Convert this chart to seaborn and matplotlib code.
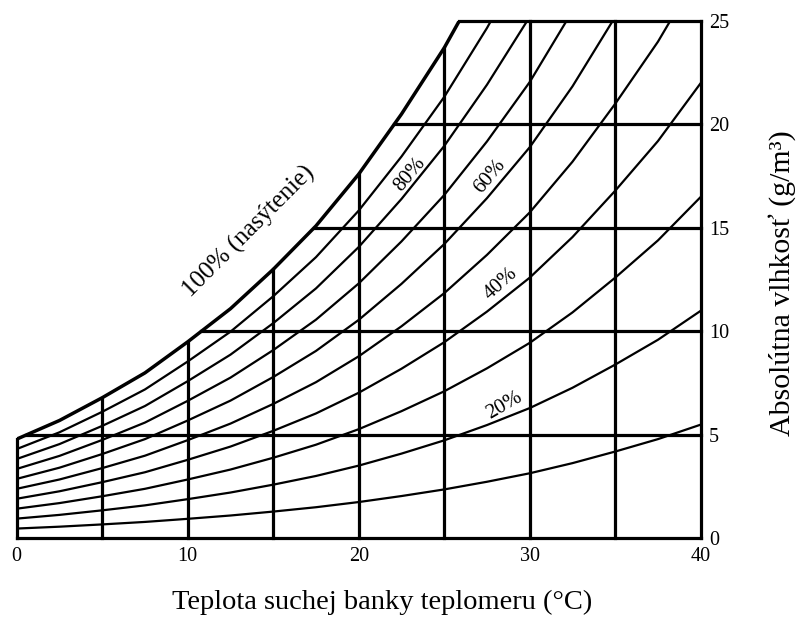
import numpy as np
import pandas as pd
import matplotlib
matplotlib.use("Agg")
import matplotlib.pyplot as plt
import seaborn as sns

# --- data ---
temp = [0, 2.5, 5, 7.5, 10, 12.5, 15, 17.5, 20, 22.5, 25, 27.5, 30, 32.5, 35, 37.5, 40]
sat = [4.8, 5.7, 6.8, 8.0, 9.5, 11.1, 13.0, 15.1, 17.6, 20.5, 23.7, 27.4, 31.5, 36.4, 42.0, 48.0, 55.0]
rh_levels = [10, 20, 30, 40, 50, 60, 70, 80, 90]
grid_x = [5, 10, 15, 20, 25, 30, 35]
grid_y = [5, 10, 15, 20, 25]
x_ticks = [0, 10, 20, 30, 40]
y_ticks = [0, 5, 10, 15, 20, 25]

sns.set_theme(style="white")
plt.rcParams["font.family"] = ["Liberation Serif", "DejaVu Serif"]

fig = plt.figure(figsize=(8, 6.26), dpi=100)
ax = fig.add_axes([0.0209, 0.1398, 0.855, 0.8267])

# relative-humidity curves
rows = []
for rh in rh_levels:
    for t, s in zip(temp, sat):
        rows.append({"t": t, "ah": s * rh / 100.0, "rh": rh})
df = pd.DataFrame(rows)
sns.lineplot(data=df, x="t", y="ah", hue="rh", palette=["black"] * len(rh_levels),
             legend=False, lw=1.6, ax=ax, estimator=None, sort=False)

# saturation curve
sns.lineplot(x=temp, y=sat, color="black", lw=2.5, ax=ax, estimator=None, sort=False)

kw = dict(color="black", lw=2.3, clip_on=False, solid_capstyle="projecting", zorder=3)
for gx in grid_x:
    top = min(float(np.interp(gx, temp, sat)), 25)
    ax.plot([gx, gx], [0, top], **kw)
for gy in grid_y:
    x0 = float(np.interp(gy, sat, temp))
    ax.plot([x0, 40], [gy, gy], **kw)
ax.plot([0, 0], [0, sat[0]], **kw)
ax.plot([0, 40], [0, 0], **kw)
ax.plot([40, 40], [0, 25], **kw)

ax.set_xlim(0, 40)
ax.set_ylim(0, 25)
for sp in ax.spines.values():
    sp.set_visible(False)
ax.set_xticks(x_ticks)
ax.set_xticklabels([str(v) for v in x_ticks])
ax.yaxis.tick_right()
ax.set_yticks(y_ticks)
ax.set_yticklabels([str(v) for v in y_ticks])
ax.tick_params(axis="both", length=0, labelsize=14.5, colors="black")
ax.tick_params(axis="x", pad=6)
ax.tick_params(axis="y", pad=6)
ax.set_xlabel("")
ax.set_ylabel("")

# curve labels
tk = dict(color="black", ha="center", va="center", rotation_mode="anchor")
ax.text(13.6, 14.8, "100% (nasýtenie)", fontsize=18, rotation=45, **tk)
ax.text(23.0, 17.6, "80%", fontsize=15, rotation=50, **tk)
ax.text(27.7, 17.5, "60%", fontsize=15, rotation=50, **tk)
ax.text(28.3, 12.3, "40%", fontsize=15, rotation=42, **tk)
ax.text(28.5, 6.4, "20%", fontsize=15, rotation=30, **tk)

fig.text(0.478, 0.038, "Teplota suchej banky teplomeru (°C)", ha="center", va="center",
         fontsize=20.5, color="black")
fig.text(0.978, 0.548, "Absolútna vlhkosť (g/m³)", ha="center", va="center",
         rotation=90, fontsize=21.5, color="black")

fig.savefig("out.png", dpi=100)
